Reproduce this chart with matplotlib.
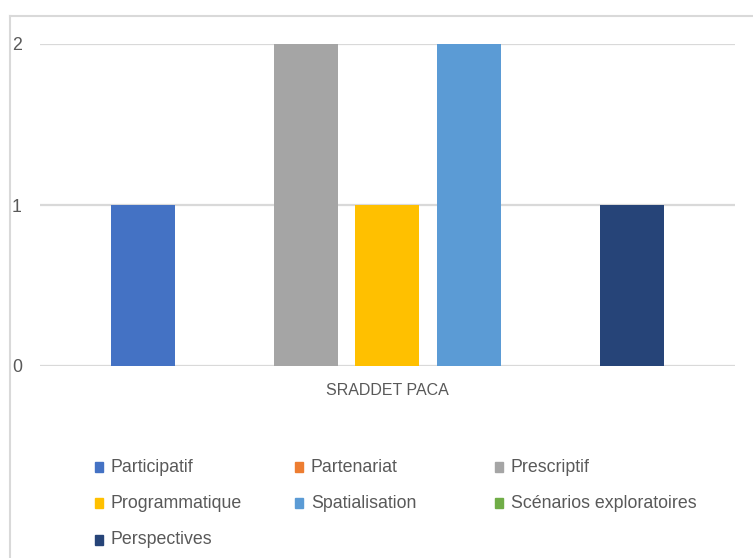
import matplotlib.pyplot as plt
from matplotlib.patches import Rectangle
from matplotlib.lines import Line2D

# Données
category = "SRADDET PACA"
series = ["Participatif", "Partenariat", "Prescriptif", "Programmatique",
          "Spatialisation", "Scénarios exploratoires", "Perspectives"]
values = [1, 0, 2, 1, 2, 0, 1]
colors = ["#4472C4", "#ED7D31", "#A5A5A5", "#FFC000",
          "#5B9BD5", "#70AD47", "#264478"]
yticks = [0, 1, 2]

plt.rcParams["font.family"] = ["Liberation Sans", "DejaVu Sans"]
text_col = "#595959"
grid_col = "#D9D9D9"
fs = 12.8

fig = plt.figure(figsize=(7.53, 5.58), dpi=100)
W, H = 753, 558

# Cadre du graphique (coupé à droite et en bas)
fig.add_artist(Line2D([9.5 / W, 1], [1 - 15.5 / H, 1 - 15.5 / H],
                      transform=fig.transFigure, color=grid_col, lw=1.5))
fig.add_artist(Line2D([9.5 / W, 9.5 / W], [0, 1 - 15.5 / H],
                      transform=fig.transFigure, color=grid_col, lw=1.5))

ax = fig.add_axes([40 / W, 1 - 366 / H, 695 / W, 322 / H])

pitch = 81.5 / 695
width = 64 / 695
n = len(series)
for i, (name, v, c) in enumerate(zip(series, values, colors)):
    x = (i - (n - 1) / 2) * pitch
    ax.bar(x, v, width=width, color=c, zorder=3, label=name)

ax.set_xlim(-0.5, 0.5)
ax.set_ylim(0, 2)
ax.set_yticks(yticks)
ax.set_yticklabels([str(t) for t in yticks])
ax.tick_params(axis="y", length=0, pad=13, labelsize=fs, labelcolor=text_col)
ax.set_xticks([0])
ax.set_xticklabels([category])
ax.tick_params(axis="x", length=0, pad=12, labelsize=11.5, labelcolor=text_col)
ax.grid(axis="y", color=grid_col, lw=1.6, zorder=0)
for s in ax.spines.values():
    s.set_visible(False)
ax.patch.set_alpha(0)

# Légende (3 colonnes, remplissage par ligne)
col_x = [95, 295, 495]
row_y = [467, 503, 540]
for i, (name, c) in enumerate(zip(series, colors)):
    r, k = divmod(i, 3)
    x0, y0 = col_x[k], row_y[r]
    fig.add_artist(Rectangle((x0 / W, 1 - (y0 + 5) / H), 8 / W, 10 / H,
                             transform=fig.transFigure, color=c))
    fig.text((x0 + 16) / W, 1 - y0 / H, name, ha="left", va="center",
             fontsize=fs, color=text_col)

fig.savefig("out.png", dpi=100)
